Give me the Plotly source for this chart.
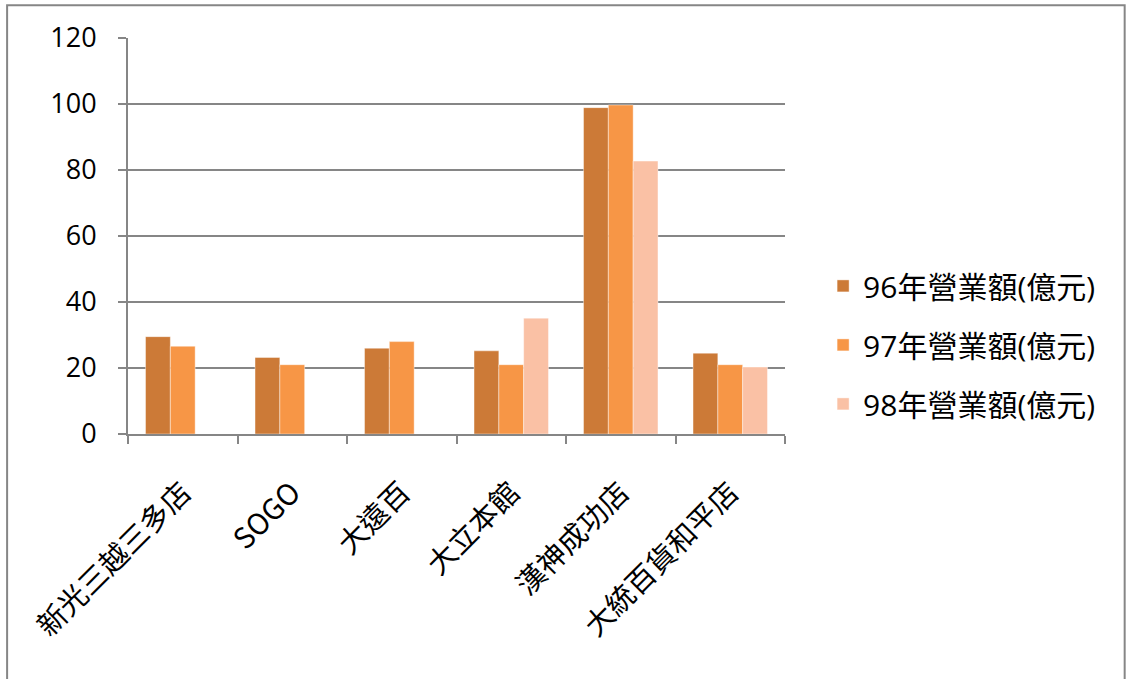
import plotly.graph_objects as go

categories = ["新光三越三多店", "SOGO", "大遠百", "大立本館", "漢神成功店", "大統百貨和平店"]
sales_96 = [29.5, 23.2, 26.0, 25.2, 98.9, 24.5]
sales_97 = [26.6, 21.0, 28.0, 21.0, 99.7, 21.0]
sales_98 = [None, None, None, 35.1, 82.7, 20.3]
series_names = ["96年營業額(億元)", "97年營業額(億元)", "98年營業額(億元)"]
colors = ["#CC7A37", "#F79646", "#FAC1A5"]
y_ticks = [0, 20, 40, 60, 80, 100, 120]

FONT = "Open Sans, Noto Sans CJK TC, sans-serif"

fig = go.Figure()
for i, (name, vals) in enumerate(zip(series_names, [sales_96, sales_97, sales_98])):
    fig.add_trace(go.Bar(
        x=categories, y=vals, name=name,
        marker=dict(color=colors[i], line=dict(width=0.6, color="rgba(255,255,255,0.7)")),
        legendgroup=f"g{i}",
    ))

fig.update_layout(
    width=1129, height=679,
    margin=dict(l=128, r=344, t=38, b=245),
    plot_bgcolor="white", paper_bgcolor="white",
    barmode="group", bargap=0.32, bargroupgap=0,
    font=dict(family=FONT, size=27, color="black"),
    showlegend=True,
    legend=dict(
        x=1.058, xanchor="left", y=0.225, yanchor="middle",
        font=dict(size=30, family=FONT),
        traceorder="grouped", tracegroupgap=17,
        itemwidth=30, bgcolor="rgba(0,0,0,0)",
    ),
    xaxis=dict(
        type="category",
        tickangle=-45,
        tickson="boundaries",
        ticks="outside", ticklen=8, tickcolor="#868686", tickwidth=2,
        showline=True, linecolor="#868686", linewidth=2,
        showgrid=False,
        tickfont=dict(size=29, family="Noto Sans CJK TC, Open Sans, sans-serif"),
        ticklabelstandoff=28,
    ),
    yaxis=dict(
        range=[0, 120],
        tickvals=y_ticks,
        ticks="outside", ticklen=8, tickcolor="#868686", tickwidth=2,
        showline=True, linecolor="#868686", linewidth=2,
        showgrid=True, gridcolor="#868686", gridwidth=2,
        zeroline=False,
        tickfont=dict(size=27),
        ticklabelstandoff=16,
    ),
    shapes=[dict(
        type="rect", xref="paper", yref="paper",
        x0=-0.184, x1=1.517, y0=-0.75, y1=1.083,
        line=dict(color="#868686", width=2), fillcolor="rgba(0,0,0,0)",
        layer="below",
    )],
)

fig.write_html("out.html")
